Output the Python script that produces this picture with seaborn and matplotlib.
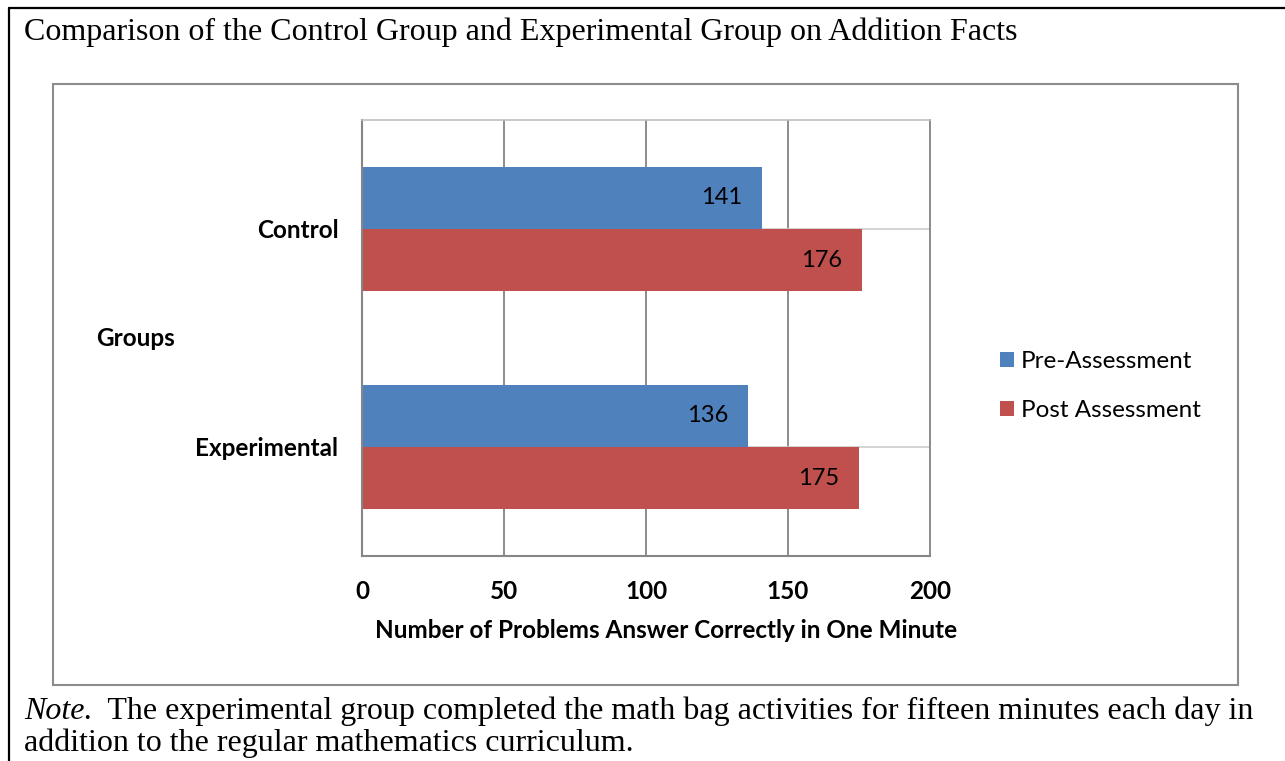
import matplotlib
matplotlib.use("Agg")
import pandas as pd
import matplotlib.pyplot as plt
import seaborn as sns
from matplotlib.lines import Line2D
from matplotlib.patches import Rectangle

groups = ["Control", "Experimental"]
assessments = ["Pre-Assessment", "Post Assessment"]
pre_scores = [141, 136]
post_scores = [176, 175]
bar_colors = ["#4F81BD", "#C0504D"]
x_ticks = [0, 50, 100, 150, 200]

title = "Comparison of the Control Group and Experimental Group on Addition Facts"
note_lead = "Note."
note_line1 = "  The experimental group completed the math bag activities for fifteen minutes each day in"
note_line2 = "addition to the regular mathematics curriculum."

W, H = 1285, 761
FS = 17.5     # chart text size
SERIF_FS = 23


def fx(px):
    return px / W


def fy(py):
    return 1 - py / H


def main():
    sns.set_style("white")
    plt.rcParams["font.family"] = ["Lato", "DejaVu Sans"]
    plt.rcParams["text.color"] = "black"
    plt.rcParams["axes.labelcolor"] = "black"
    plt.rcParams["xtick.labelcolor"] = "black"
    plt.rcParams["ytick.labelcolor"] = "black"

    df = pd.DataFrame({
        "group": groups * 2,
        "assessment": [assessments[0]] * len(groups) + [assessments[1]] * len(groups),
        "score": pre_scores + post_scores,
    })

    fig = plt.figure(figsize=(W / 100, H / 100), dpi=100)
    ax = fig.add_axes([fx(362), fy(556), fx(930) - fx(362), fy(120) - fy(556)])

    sns.barplot(data=df, y="group", x="score", hue="assessment", orient="h",
                palette=bar_colors, saturation=1, width=0.573, ax=ax,
                edgecolor="none", linewidth=0)

    ax.set_xlim(0, 200)
    ax.set_ylim(1.5, -0.5)
    ax.set_axisbelow(True)

    # value labels inside bar ends
    for cont in ax.containers:
        for patch in cont:
            w = patch.get_width()
            yc = patch.get_y() + patch.get_height() / 2
            ax.annotate(f"{w:.0f}", (w, yc), xytext=(-14.5, 0), textcoords="offset points",
                        ha="right", va="center", fontsize=17, color="black")

    # axes styling
    ax.set_xticks(x_ticks)
    ax.set_xticklabels([str(t) for t in x_ticks], fontsize=FS, fontweight="bold")
    ax.tick_params(axis="x", length=6, width=1.2, color="#8c8c8c", direction="out", pad=11)
    ax.set_yticks([0, 1])
    ax.set_yticklabels(groups, fontsize=FS, fontweight="bold")
    ax.set_yticks([-0.5, 0.5, 1.5], minor=True)
    ax.tick_params(axis="y", which="major", length=0, pad=17)
    ax.tick_params(axis="y", which="minor", length=6, width=1.2, color="#8c8c8c", direction="out")

    ax.grid(axis="x", color="#8c8c8c", linewidth=1.4)
    ax.grid(axis="y", which="major", color="#cccccc", linewidth=1.2)

    ax.spines["left"].set_color("#868686")
    ax.spines["left"].set_linewidth(1.5)
    ax.spines["bottom"].set_color("#868686")
    ax.spines["bottom"].set_linewidth(1.5)
    ax.spines["top"].set_color("#bfbfbf")
    ax.spines["top"].set_linewidth(1.2)
    ax.spines["right"].set_color("#8c8c8c")
    ax.spines["right"].set_linewidth(1.4)

    ax.set_xlabel("Number of Problems Answer Correctly in One Minute", fontsize=FS, fontweight="bold")
    ax.xaxis.set_label_coords(0.535, -0.172)
    ax.xaxis.label.set_va("center")
    ax.set_ylabel("Groups", fontsize=FS, fontweight="bold", rotation=0, ha="center", va="center")
    ax.yaxis.set_label_coords(-0.398, 0.5)

    handles, labels = ax.get_legend_handles_labels()
    ax.legend(handles, labels, loc="center left", bbox_to_anchor=(fx(1000), fy(386)),
              bbox_transform=fig.transFigure, frameon=False, fontsize=FS,
              handlelength=0.58, handleheight=0.58, handletextpad=0.29,
              labelspacing=1.14, borderpad=0, borderaxespad=0)

    # chart frame and document frame
    fig.add_artist(Rectangle((fx(53), fy(685)), fx(1238) - fx(53), fy(84) - fy(685),
                             transform=fig.transFigure, fill=False,
                             edgecolor="#8c8c8c", linewidth=1.5))
    fig.add_artist(Line2D([fx(9), 1], [fy(8), fy(8)], transform=fig.transFigure,
                          color="black", linewidth=1.6))
    fig.add_artist(Line2D([fx(9), fx(9)], [fy(8), 0], transform=fig.transFigure,
                          color="black", linewidth=1.6))

    serif = ["Liberation Serif", "DejaVu Serif"]
    fig.text(fx(24), fy(32), title, family=serif, fontsize=SERIF_FS, va="center", ha="left")

    lead = fig.text(fx(24), fy(719), note_lead, family=serif, fontsize=SERIF_FS,
                    style="italic", va="baseline", ha="left")
    fig.canvas.draw()
    bb = lead.get_window_extent(renderer=fig.canvas.get_renderer())
    fig.text(bb.x1 / W, fy(719), note_line1, family=serif, fontsize=SERIF_FS, va="baseline", ha="left")
    fig.text(fx(24), fy(751), note_line2, family=serif, fontsize=SERIF_FS, va="baseline", ha="left")

    fig.savefig("out.png", dpi=100, facecolor="white")


if __name__ == "__main__":
    main()
